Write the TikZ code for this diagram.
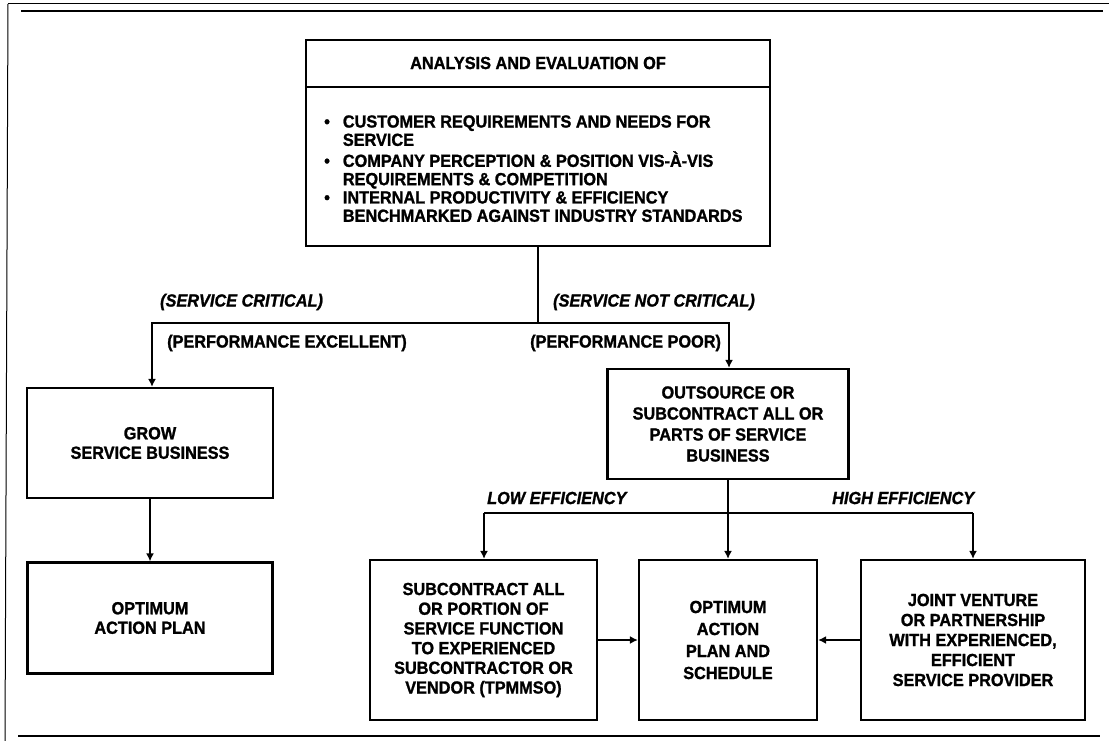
\documentclass[tikz,border=0pt]{standalone}
\usepackage{fontspec}
\setmainfont{Liberation Sans}[FakeStretch=0.93, FakeBold=1.3]
\usetikzlibrary{arrows.meta}
\begin{document}
\begin{tikzpicture}[x=1pt,y=-1pt,
  box/.style={draw, line width=2.2pt, inner sep=0pt},
  txt/.style={font=\fontsize{17.5}{19.5}\selectfont\bfseries, align=center, inner sep=0pt},
  lbl/.style={font=\fontsize{17.5}{19}\selectfont\bfseries, inner sep=0pt, anchor=west},
  ilbl/.style={font=\fontsize{17.5}{19}\selectfont\bfseries\itshape, inner sep=0pt, anchor=west},
  conn/.style={line width=2pt},
  arr/.style={conn, -{Latex[length=8pt,width=8pt]}},
  frame/.style={line width=1pt},
  rule/.style={line width=2.5pt}]
\useasboundingbox (0,0) rectangle (1109,741);
% frame lines
\draw[frame] (8,4) -- (1109,4);
\draw[frame] (8,4) -- (5,741);
\draw[rule] (21,11) -- (1103,11);
\draw[rule] (18,736) -- (1100,736);
% top box
\node[box, minimum width=464pt, minimum height=206pt] (top) at (538,143) {};
\draw[conn] (top.west |- 0,87) -- (top.east |- 0,87);
\node[txt] (title) at (538,63) {ANALYSIS AND EVALUATION OF};
\node[txt, font=\fontsize{17.5}{18.3}\selectfont\bfseries, anchor=west, align=left] (lst) at (324,171) {%
\begin{tabular}{@{}l@{\hspace{13pt}}l@{}}
\textbullet & CUSTOMER REQUIREMENTS AND NEEDS FOR\\
 & SERVICE\\
\textbullet & COMPANY PERCEPTION \& POSITION VIS-À-VIS\\
 & REQUIREMENTS \& COMPETITION\\
\textbullet & INTERNAL PRODUCTIVITY \& EFFICIENCY\\
 & BENCHMARKED AGAINST INDUSTRY STANDARDS
\end{tabular}};
% second level
\node[box, txt, minimum width=246pt, minimum height=110pt] (grow) at (150,443) {GROW\\SERVICE BUSINESS};
\node[box, txt, minimum width=245pt, minimum height=111pt] (opt) at (150,618) {OPTIMUM\\ACTION PLAN};
\node[box, txt, font=\fontsize{17.5}{21}\selectfont\bfseries, minimum width=241pt, minimum height=110pt] (out) at (728,424) {OUTSOURCE OR\\SUBCONTRACT ALL OR\\PARTS OF SERVICE\\BUSINESS};
\coordinate (jl) at (152,323);
\coordinate (jr) at (729,323);
\draw[conn] (top.south) -- (top.south |- jl);
\draw[arr] (top.south |- jl) -- (jl) -- (jl |- grow.north);
\draw[arr] (top.south |- jl) -- (jr) -- (jr |- out.north);
\draw[arr] (grow.south) -- (opt.north);
\node[ilbl] (scrit) at (160,302) {(SERVICE CRITICAL)};
\node[ilbl] (sncrit) at (553,302) {(SERVICE NOT CRITICAL)};
\node[lbl] (pexc) at (167,343) {(PERFORMANCE EXCELLENT)};
\node[lbl] (ppoor) at (530,343) {(PERFORMANCE POOR)};
% bottom row
\node[box, txt, font=\fontsize{17.5}{19.7}\selectfont\bfseries, minimum width=227pt, minimum height=160pt] (sub) at (483.5,640) {SUBCONTRACT ALL\\OR PORTION OF\\SERVICE FUNCTION\\TO EXPERIENCED\\SUBCONTRACTOR OR\\VENDOR (TPMMSO)};
\node[box, txt, font=\fontsize{17.5}{22}\selectfont\bfseries, minimum width=178pt, minimum height=160pt] (ctr) at (728,640) {OPTIMUM\\ACTION\\PLAN AND\\SCHEDULE};
\node[box, txt, font=\fontsize{17.5}{20}\selectfont\bfseries, minimum width=224pt, minimum height=160pt] (jv) at (973,640) {JOINT VENTURE\\OR PARTNERSHIP\\WITH EXPERIENCED,\\EFFICIENT\\SERVICE PROVIDER};
\coordinate (bl) at (484,513);
\coordinate (br) at (973,513);
\draw[conn] (bl) -- (br);
\draw[arr] (out.south) -- (ctr.north);
\draw[arr] (bl) -- (bl |- sub.north);
\draw[arr] (br) -- (br |- jv.north);
\draw[arr] (sub.east) -- (ctr.west);
\draw[arr] (jv.west) -- (ctr.east);
\node[ilbl] (loweff) at (487,498) {LOW EFFICIENCY};
\node[ilbl] (higheff) at (832,498) {HIGH EFFICIENCY};
\end{tikzpicture}
\end{document}
